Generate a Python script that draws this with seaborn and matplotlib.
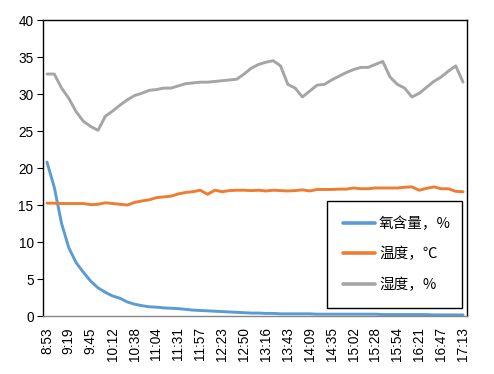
import matplotlib
matplotlib.use("Agg")
import matplotlib.pyplot as plt
import seaborn as sns
import pandas as pd

time_labels = ["8:53", "9:19", "9:45", "10:12", "10:38", "11:04", "11:31", "11:57",
               "12:23", "12:50", "13:16", "13:43", "14:09", "14:35", "15:02", "15:28",
               "15:54", "16:21", "16:47", "17:13"]

oxygen = [20.8, 17.4, 12.5, 9.2, 7.2, 5.9, 4.7, 3.8, 3.2, 2.7,
          2.4, 1.9, 1.6, 1.4, 1.25, 1.2, 1.1, 1.05, 1.0, 0.9,
          0.8, 0.75, 0.7, 0.65, 0.6, 0.55, 0.5, 0.45, 0.4, 0.4,
          0.35, 0.35, 0.3, 0.3, 0.3, 0.3, 0.3, 0.25, 0.25, 0.25,
          0.25, 0.25, 0.25, 0.25, 0.25, 0.25, 0.2, 0.2, 0.2, 0.2,
          0.2, 0.2, 0.2, 0.15, 0.15, 0.15, 0.15, 0.15]

temperature = [15.25, 15.25, 15.2, 15.2, 15.2, 15.2, 15.05, 15.1, 15.3, 15.2,
               15.1, 15.0, 15.35, 15.55, 15.7, 16.0, 16.1, 16.2, 16.5, 16.7,
               16.8, 17.0, 16.45, 17.0, 16.8, 16.95, 17.0, 17.0, 16.95, 17.0,
               16.9, 17.0, 16.95, 16.9, 16.95, 17.05, 16.9, 17.1, 17.1, 17.1,
               17.15, 17.15, 17.3, 17.2, 17.2, 17.3, 17.3, 17.3, 17.3, 17.4,
               17.45, 17.0, 17.25, 17.45, 17.2, 17.2, 16.85, 16.8]

humidity = [32.7, 32.7, 30.8, 29.4, 27.6, 26.3, 25.6, 25.1, 27.0, 27.7,
            28.5, 29.2, 29.8, 30.1, 30.5, 30.6, 30.8, 30.8, 31.1, 31.4,
            31.5, 31.6, 31.6, 31.7, 31.8, 31.9, 32.0, 32.7, 33.5, 34.0,
            34.3, 34.5, 33.8, 31.3, 30.8, 29.6, 30.4, 31.2, 31.3, 31.9,
            32.4, 32.9, 33.3, 33.6, 33.6, 34.0, 34.4, 32.3, 31.3, 30.8,
            29.6, 30.1, 30.9, 31.7, 32.3, 33.1, 33.8, 31.6]

series_names = ["氧含量，%", "温度，℃", "湿度，%"]
series_colors = ["#5B9BD5", "#ED7D31", "#A5A5A5"]

sns.set_style("white")
plt.rcParams["font.family"] = ["Liberation Sans", "Noto Sans CJK SC", "DejaVu Sans"]

rows = []
for name, vals in zip(series_names, [oxygen, temperature, humidity]):
    for i, v in enumerate(vals):
        rows.append({"idx": i, "value": v, "series": name})
df = pd.DataFrame(rows)

fig = plt.figure(figsize=(4.94, 3.74), dpi=100)
ax = fig.add_axes([0.0877, 0.155, 0.857, 0.7915])

sns.lineplot(data=df, x="idx", y="value", hue="series", hue_order=series_names,
             palette=series_colors, linewidth=2.1, ax=ax, legend=False)

n = len(oxygen)
ax.set_xlim(-0.5, n - 0.5)
ax.set_ylim(0, 40)
ax.set_yticks(range(0, 41, 5))
ax.set_xticks(range(0, n, 3))
ax.set_xticklabels(time_labels, rotation=90)
ax.set_xlabel("")
ax.set_ylabel("")

ax.tick_params(axis="y", which="major", direction="out", length=4, width=0.8,
               color="black", labelcolor="black", labelsize=9.8, pad=3, left=True)
ax.tick_params(axis="x", which="major", length=0, labelcolor="black",
               labelsize=9.8, pad=8)

for s in ["left", "top", "right"]:
    ax.spines[s].set_visible(True)
    ax.spines[s].set_color("black")
    ax.spines[s].set_linewidth(1.0)
ax.spines["bottom"].set_visible(True)
ax.spines["bottom"].set_color("#868686")
ax.spines["bottom"].set_linewidth(1.0)

handles = [plt.Line2D([], [], color=c, linewidth=2.6) for c in series_colors]
leg = ax.legend(handles, series_names, loc="lower left",
                bbox_to_anchor=(0.669, 0.027, 0.3206, 0.367), mode="expand",
                borderaxespad=0,
                prop={"family": ["Noto Sans CJK SC", "DejaVu Sans"], "size": 10.5},
                handlelength=2.2, handletextpad=0.3, labelspacing=1.1,
                borderpad=1.1, fancybox=False, framealpha=1, edgecolor="black")
leg.get_frame().set_linewidth(1.0)
for t in leg.get_texts():
    t.set_color("black")

fig.savefig("out.png", dpi=100)
